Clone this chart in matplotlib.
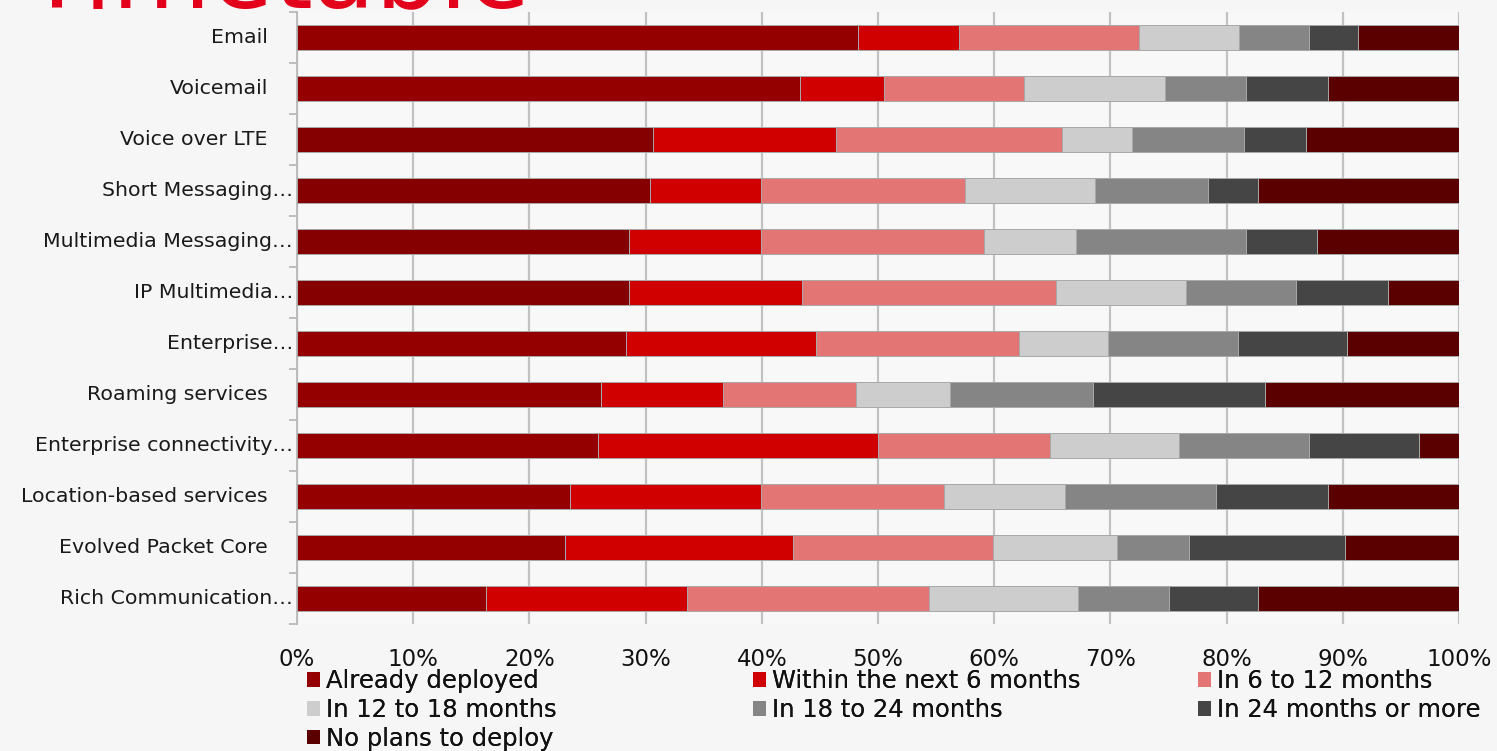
import matplotlib
matplotlib.use("Agg")
import matplotlib.pyplot as plt
import matplotlib.transforms as mtransforms
from matplotlib.patches import Patch
import numpy as np

# ---------------- data ----------------
categories = [
    "Email", "Voicemail", "Voice over LTE", "Short Messaging\u2026",
    "Multimedia Messaging\u2026", "IP Multimedia\u2026", "Enterprise\u2026",
    "Roaming services", "Enterprise connectivity\u2026",
    "Location-based services", "Evolved Packet Core", "Rich Communication\u2026",
]
series_names = [
    "Already deployed", "Within the next 6 months", "In 6 to 12 months",
    "In 12 to 18 months", "In 18 to 24 months", "In 24 months or more",
    "No plans to deploy",
]
already_deployed = [48.3, 43.3, 30.6, 30.4, 28.6, 28.6, 28.3, 26.2, 25.9, 23.5, 23.1, 16.3]
within_6_months  = [8.7, 7.2, 15.8, 9.5, 11.3, 14.9, 16.4, 10.5, 24.1, 16.4, 19.6, 17.3]
in_6_to_12       = [15.5, 12.1, 19.4, 17.6, 19.2, 21.8, 17.4, 11.4, 14.8, 15.8, 17.2, 20.8]
in_12_to_18      = [8.6, 12.1, 6.1, 11.2, 7.9, 11.2, 7.7, 8.1, 11.1, 10.4, 10.7, 12.8]
in_18_to_24      = [6.0, 7.0, 9.6, 9.7, 14.7, 9.5, 11.2, 12.3, 11.2, 13.0, 6.2, 7.8]
in_24_or_more    = [4.2, 7.0, 5.3, 4.3, 6.1, 7.9, 9.4, 14.8, 9.5, 9.6, 13.4, 7.7]
no_plans         = [8.7, 11.3, 13.2, 17.3, 12.2, 6.1, 9.6, 16.7, 3.4, 11.3, 9.8, 17.3]
xtick_labels = ["0%", "10%", "20%", "30%", "40%", "50%", "60%", "70%", "80%", "90%", "100%"]
title_text = "Timetable"

# ---------------- style ----------------
series_colors = ["#940000", "#d00000", "#e47575", "#cdcdcd", "#858585", "#454545", "#5a0000"]
first_series_row_colors = ["#940000", "#940000", "#850000", "#850000", "#850000", "#850000",
                           "#940000", "#940000", "#940000", "#940000", "#940000", "#940000"]
bg = "#f6f6f6"

W, H = 1497, 751
fig = plt.figure(figsize=(W / 100, H / 100), dpi=100, facecolor=bg)
ax = fig.add_axes([297 / W, 1 - 624 / H, (1459 - 297) / W, (624 - 12) / H])
ax.set_facecolor("#f8f8f8")

series = [already_deployed, within_6_months, in_6_to_12, in_12_to_18,
          in_18_to_24, in_24_or_more, no_plans]
y = np.arange(len(categories))
left = np.zeros(len(categories))
for i, (vals, name) in enumerate(zip(series, series_names)):
    vals = np.array(vals, dtype=float)
    cols = first_series_row_colors if i == 0 else series_colors[i]
    ax.barh(y, vals, left=left, height=0.5, color=cols, edgecolor="#a8a8a8",
            linewidth=0.7, zorder=3, label=name)
    left += vals

ax.set_xlim(0, 100)
ax.set_ylim(len(categories) - 0.5, -0.5)
ax.set_xticks(np.arange(0, 101, 10))
ax.set_xticklabels(xtick_labels, fontsize=16.5, color="#111111")
ax.tick_params(axis="x", length=0, pad=17)
ax.grid(axis="x", color="#c2c2c2", linewidth=1.6, zorder=0)

for s in ["top", "right", "bottom"]:
    ax.spines[s].set_visible(False)
ax.spines["left"].set_color("#b8b8b8")
ax.spines["left"].set_linewidth(1.3)

ax.set_yticks([])
ax.set_yticks(np.arange(-0.5, len(categories), 1.0), minor=True)
ax.tick_params(axis="y", which="minor", length=6, color="#b8b8b8", width=1.3, direction="out")

# category labels
for yi, lab in zip(y, categories):
    off = -4 if lab.endswith("\u2026") else -29
    tr = mtransforms.offset_copy(ax.get_yaxis_transform(), fig=fig, x=off, y=0, units="dots")
    ax.text(0, yi, lab, transform=tr, ha="right", va="center", fontsize=14.75, color="#1a1a1a")

# legend in three columns (row-wise order)
handles = [Patch(facecolor=c, edgecolor="none") for c in series_colors]
col_groups = [[0, 3, 6], [1, 4], [2, 5]]
col_x = [307, 753, 1198]
for grp, cx in zip(col_groups, col_x):
    leg = fig.legend([handles[k] for k in grp], [series_names[k] for k in grp],
                     loc="upper left", bbox_to_anchor=(cx / W, 1 - 669 / H),
                     frameon=False, fontsize=17.5, handlelength=0.55, handleheight=0.55,
                     handletextpad=0.22, labelspacing=0.2, borderpad=0, borderaxespad=0,
                     labelcolor="#111111")
    fig.add_artist(leg)

# title (mostly cut off at the top, as in the source)
fig.text(25 / W, 1 - 7 / H, title_text, fontsize=73, color="#e2001a",
         ha="left", va="baseline")

fig.savefig("out.png", dpi=100, facecolor=bg)
